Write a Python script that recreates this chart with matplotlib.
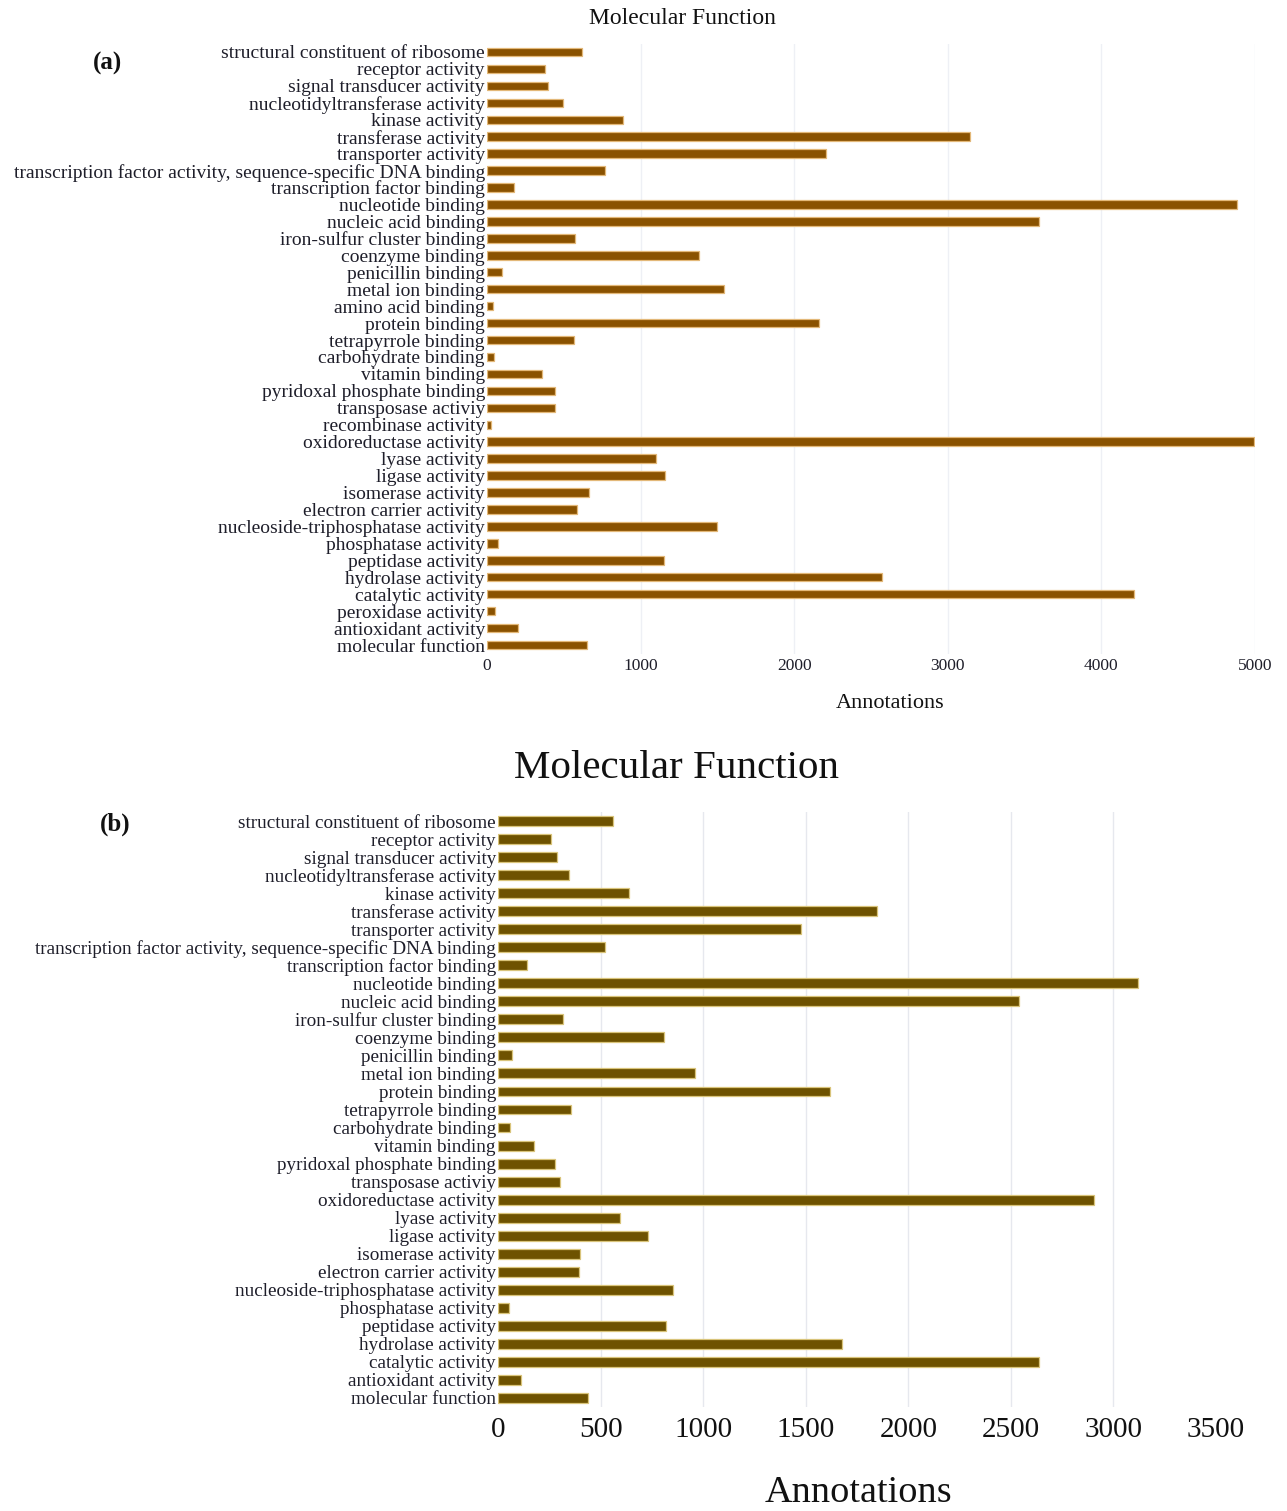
import matplotlib
matplotlib.use("Agg")
import matplotlib.pyplot as plt

plt.rcParams['font.family'] = ['Liberation Serif', 'DejaVu Serif']

# ---- data: panel (a) ----
terms_a = [
    "structural constituent of ribosome", "receptor activity", "signal transducer activity",
    "nucleotidyltransferase activity", "kinase activity", "transferase activity",
    "transporter activity", "transcription factor activity, sequence-specific DNA binding",
    "transcription factor binding", "nucleotide binding", "nucleic acid binding",
    "iron-sulfur cluster binding", "coenzyme binding", "penicillin binding",
    "metal ion binding", "amino acid binding", "protein binding", "tetrapyrrole binding",
    "carbohydrate binding", "vitamin binding", "pyridoxal phosphate binding",
    "transposase activiy", "recombinase activity", "oxidoreductase activity",
    "lyase activity", "ligase activity", "isomerase activity", "electron carrier activity",
    "nucleoside-triphosphatase activity", "phosphatase activity", "peptidase activity",
    "hydrolase activity", "catalytic activity", "peroxidase activity",
    "antioxidant activity", "molecular function",
]
counts_a = [
    618, 375, 395, 498, 884, 3146, 2209, 771, 173, 4880, 3594, 575,
    1379, 96, 1541, 40, 2159, 568, 47, 355, 445, 445, 27, 4993,
    1100, 1159, 661, 588, 1498, 73, 1153, 2571, 4209, 53, 203, 648,
]

# ---- data: panel (b) ----
terms_b = [
    "structural constituent of ribosome", "receptor activity", "signal transducer activity",
    "nucleotidyltransferase activity", "kinase activity", "transferase activity",
    "transporter activity", "transcription factor activity, sequence-specific DNA binding",
    "transcription factor binding", "nucleotide binding", "nucleic acid binding",
    "iron-sulfur cluster binding", "coenzyme binding", "penicillin binding",
    "metal ion binding", "protein binding", "tetrapyrrole binding", "carbohydrate binding",
    "vitamin binding", "pyridoxal phosphate binding", "transposase activiy",
    "oxidoreductase activity", "lyase activity", "ligase activity", "isomerase activity",
    "electron carrier activity", "nucleoside-triphosphatase activity", "phosphatase activity",
    "peptidase activity", "hydrolase activity", "catalytic activity",
    "antioxidant activity", "molecular function",
]
counts_b = [
    560, 260, 287, 347, 639, 1849, 1477, 520, 141, 3120, 2542, 317,
    808, 67, 961, 1618, 357, 57, 176, 278, 302, 2904, 595, 733, 401,
    396, 852, 52, 818, 1678, 2639, 112, 441,
]

ticks_a = [0, 1000, 2000, 3000, 4000, 5000]
ticks_b = [0, 500, 1000, 1500, 2000, 2500, 3000, 3500]

W, H = 1287, 1511
fig = plt.figure(figsize=(W / 100, H / 100), dpi=100)


def px_axes(left, top, right, bottom):
    return fig.add_axes([left / W, 1 - bottom / H, (right - left) / W, (bottom - top) / H])


def style(ax, grid_color):
    for s in ax.spines.values():
        s.set_visible(False)
    ax.tick_params(axis='both', length=0)
    ax.set_axisbelow(True)
    ax.xaxis.grid(True, color=grid_color, linewidth=1.0)
    ax.yaxis.grid(False)


# ---- panel (a) ----
ax1 = px_axes(487, 43.5, 1255, 653.5)
ya = list(range(len(terms_a)))
ax1.barh(ya, counts_a, height=0.5, color="#8a5200", edgecolor="#e3b878", linewidth=0.9)
ax1.set_ylim(len(terms_a) - 0.5, -0.5)
ax1.set_xlim(0, 5000)
ax1.set_yticks(ya)
ax1.set_yticklabels(terms_a, fontsize=14.0, color="#1e1e2a")
ax1.set_xticks(ticks_a)
ax1.set_xticklabels([str(t) for t in ticks_a], fontsize=12.5, color="#1e1e2a")
style(ax1, "#eef0f5")
ax1.tick_params(axis='y', pad=1.5)
ax1.tick_params(axis='x', pad=3)
ax1.get_xgridlines()[0].set_visible(False)

fig.text(682 / W, 1 - 19 / H, "Molecular Function", ha="center", va="center",
         fontsize=17, color="#111111")
fig.text(890 / W, 1 - 703 / H, "Annotations", ha="center", va="center",
         fontsize=16, color="#111111")
fig.text(107 / W, 1 - 63 / H, "(a)", ha="center", va="center",
         fontsize=18, fontweight="bold", color="#111111")

# ---- panel (b) ----
ax2 = px_axes(498, 812, 1216, 1407)
yb = list(range(len(terms_b)))
ax2.barh(yb, counts_b, height=0.55, color="#6e5200", edgecolor="#d9c47a", linewidth=0.9)
ax2.set_ylim(len(terms_b) - 0.5, -0.5)
ax2.set_xlim(0, 3500)
ax2.set_yticks(yb)
ax2.set_yticklabels(terms_b, fontsize=13.8, color="#1e1e2a")
ax2.set_xticks(ticks_b)
ax2.set_xticklabels([str(t) for t in ticks_b], fontsize=21, color="#111111")
style(ax2, "#e6e8ee")
ax2.tick_params(axis='y', pad=1.5)
ax2.tick_params(axis='x', pad=7)
ax2.get_xgridlines()[0].set_visible(False)
ax2.get_xgridlines()[-1].set_visible(False)

fig.text(677 / W, 1 - 768 / H, "Molecular Function", ha="center", va="center",
         fontsize=29.5, color="#111111")
fig.text(858 / W, 1 - 1493 / H, "Annotations", ha="center", va="center",
         fontsize=27.5, color="#111111")
fig.text(115 / W, 1 - 824 / H, "(b)", ha="center", va="center",
         fontsize=18, fontweight="bold", color="#111111")

fig.savefig("out.png", dpi=100, facecolor="white")
